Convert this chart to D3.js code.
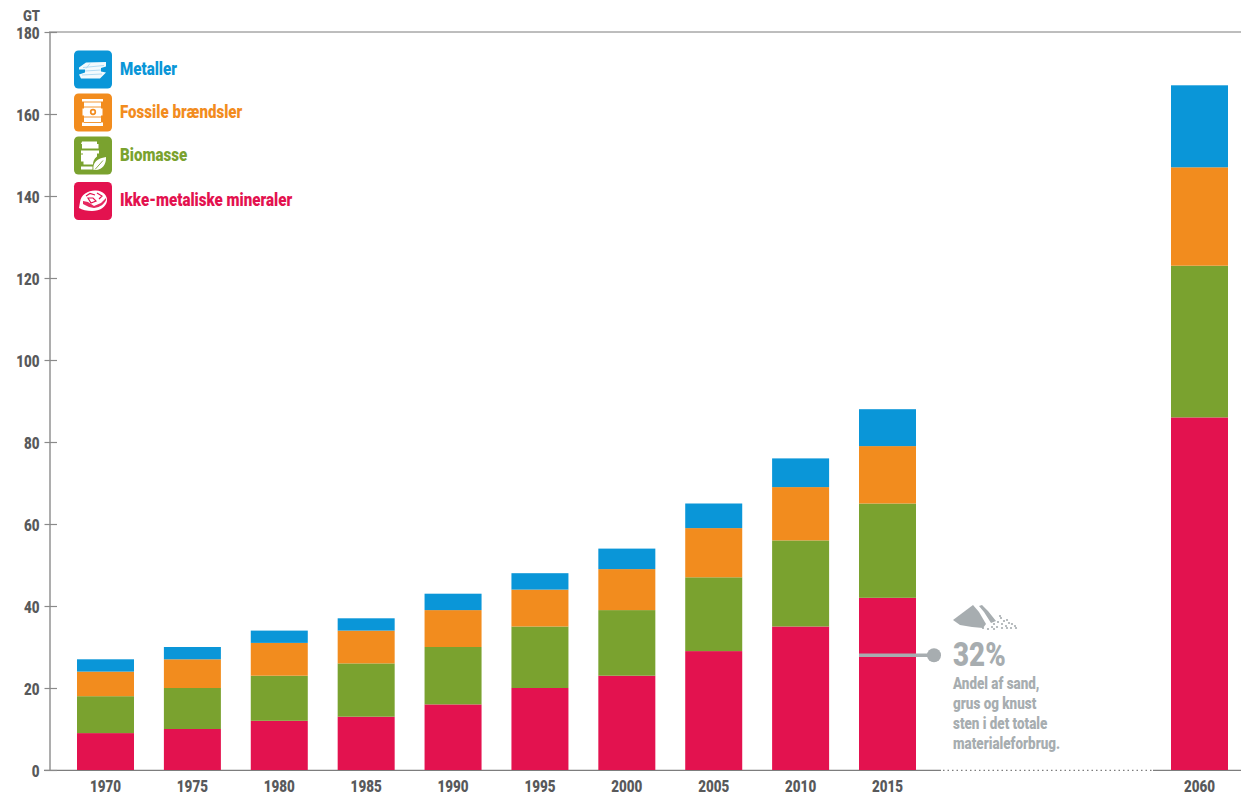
<!DOCTYPE html>
<html lang="da">
<head>
<meta charset="utf-8">
<script src="https://cdn.jsdelivr.net/npm/d3@7"></script>
<style>
html,body{margin:0;padding:0;background:#fff;}
svg{display:block;}
text{font-family:"Roboto",sans-serif;font-weight:900;}
</style>
</head>
<body>
<svg id="chart" width="1241" height="795"></svg>
<script>
const years = [1970,1975,1980,1985,1990,1995,2000,2005,2010,2015,2060];
const minerals = [9,10,12,13,16,20,23,29,35,42,86];
const biomass  = [9,10,11,13,14,15,16,18,21,23,37];
const fossil   = [6,7,8,8,9,9,10,12,13,14,24];
const metals   = [3,3,3,3,4,4,5,6,7,9,20];
const yTicks = [0,20,40,60,80,100,120,140,160,180];
const seriesNames = ["Ikke-metaliske mineraler","Biomasse","Fossile brændsler","Metaller"];
const seriesColors = ["#e3124f","#7aa22f","#f28c1e","#0a96d8"];
const legendOrder = ["Metaller","Fossile brændsler","Biomasse","Ikke-metaliske mineraler"];
const noteLines = ["Andel af sand,","grus og knust","sten i det totale","materialeforbrug."];
const noteValue = 28;
const noteShare = "32%";

const svg = d3.select("#chart");
const squeeze = 0.84;           // Roboto narrowed to a condensed width
const ink = "#58595b", axisGrey = "#8a8a8a", noteGrey = "#a7adb0";

const y = d3.scaleLinear().domain([0,180]).range([770,32]);
// The axis jumps from 2015 to 2060, so each side of the gap has its own pace
const x = d3.scaleLinear().domain([1970,2015,2060]).range([105.5,887.5,1199.5]);
const barW = 57;

function label(g,px,py,str,size,fill,anchor){
  return g.append("text")
    .attr("transform",`translate(${px},${py}) scale(${squeeze},1)`)
    .attr("text-anchor",anchor||"start")
    .attr("font-size",size).attr("fill",fill).text(str);
}

// Top rule and baseline with its dotted stretch across the gap
const rule = "#7d7d7d", baseY = y(0)+0.4;
svg.append("line").attr("x1",49).attr("x2",1241).attr("y1",y(180)).attr("y2",y(180))
  .attr("stroke",rule).attr("stroke-width",1);
svg.append("line").attr("x1",44).attr("x2",941).attr("y1",baseY).attr("y2",baseY)
  .attr("stroke",rule).attr("stroke-width",1.3);
svg.append("line").attr("x1",943).attr("x2",1153).attr("y1",baseY).attr("y2",baseY)
  .attr("stroke",rule).attr("stroke-width",1.3).attr("stroke-dasharray","1.5 3");
svg.append("line").attr("x1",1153).attr("x2",1241).attr("y1",baseY).attr("y2",baseY)
  .attr("stroke",rule).attr("stroke-width",1.3);

// Stacked bars
const rows = years.map((yr,i)=>({year:yr,0:minerals[i],1:biomass[i],2:fossil[i],3:metals[i]}));
const stacked = d3.stack().keys([0,1,2,3])(rows);
svg.append("g").selectAll("g").data(stacked).join("g")
  .attr("fill",s=>seriesColors[s.key])
  .selectAll("rect").data(s=>s).join("rect")
  .attr("x",d=>x(d.data.year)-barW/2)
  .attr("width",barW)
  .attr("y",d=>y(d[1]))
  .attr("height",d=>y(d[0])-y(d[1]));

// Value axis built by d3, restyled below
const yAxisG = svg.append("g").attr("transform","translate(49.5,0)")
  .call(d3.axisLeft(y).tickValues(yTicks).tickSize(0).tickPadding(0).tickFormat(()=>""));
yAxisG.select(".domain").attr("stroke",axisGrey).attr("stroke-width",1.4);
yAxisG.selectAll(".tick line").attr("x1",-5).attr("x2",7.5)
  .attr("stroke",axisGrey).attr("stroke-width",1.2);
yAxisG.selectAll(".tick").each(function(d){
  label(d3.select(this),-10,6,d,16,ink,"end");
});

// Year labels and unit
const xLabels = svg.append("g");
years.forEach(yr=>label(xLabels,x(yr),792,yr,16,ink,"middle"));
label(svg,31.5,20.5,"GT",15.5,ink,"middle");

// Legend
const iconPainters = {
  "Metaller":(g,c)=>{
    g.append("path").attr("d","M5 17 L12 12 L32 11.5 L32 16 L27 17.5 L27 21 L32 22 L26 28 L7 28 L5 24 L11 22 L11 19 L5 19 Z").attr("fill","#fff").attr("opacity",.95);
    g.append("path").attr("d","M9 17 L30 15 M11 20.5 L27 19.5 M8 24.5 L28 23.5 M16 13 L12 18").attr("stroke","#a9d8f2").attr("stroke-width",.9).attr("fill","none");
  },
  "Fossile brændsler":(g,c)=>{
    g.append("path").attr("d","M8 5.5 H29 V8 H27 V15 H28.5 V22 H27 V29 H29 V32.5 H8 V29 H10 V22 H8.5 V15 H10 V8 H8 Z").attr("fill","#fff");
    g.append("path").attr("d","M10 8.5 H27 M10 13.5 H27 M10 23.5 H27 M10 29 H27").attr("stroke",c).attr("stroke-width",.9);
    g.append("circle").attr("cx",19).attr("cy",18.5).attr("r",2.3).attr("fill","#fff").attr("stroke",c).attr("stroke-width",1.7);
  },
  "Biomasse":(g,c)=>{
    g.append("path").attr("d","M8 5 H23 V7.5 H24.5 V12 H8 V7.5 H7 Z M7 14 H25 V17 H23 V20 C20 22 19 25 19 28 H9.5 V25 H7 V18 H9 V17 H7 Z M7 30 H18.5 V33 H7 Z").attr("fill","#fff");
    g.append("path").attr("d","M19.5 33.5 C18.5 26 23 22 32 20.5 C32.5 28 28 34 20.5 33.5 Z").attr("fill","#fff");
    g.append("path").attr("d","M21 33 L29 24").attr("stroke",c).attr("stroke-width",.9);
  },
  "Ikke-metaliske mineraler":(g,c)=>{
    g.append("path").attr("d","M6 20 C7 12 15 8 22 8.5 C29 9 33.5 13 33 19 C32 25 26 29 18 29 C13 29 8 28 5 26 Z").attr("fill","#fff");
    g.append("path").attr("d","M9 19 L14 20 L20 24 L27 21 L32 16 L32 18 C30 22 27 25 20 26 L15 25 L9 22 Z").attr("fill",c).attr("opacity",.9);
    g.append("path").attr("d","M12 14 L16 11.5 L21 13 M23 11 L28 14 L25 17 M14 16 L19 16 L22 19 L17 21 Z").attr("stroke",c).attr("stroke-width",1.2).attr("fill","none");
  }
};
const legendTops = [50.5,93.5,136.5,182];
legendOrder.forEach((name,i)=>{
  const col = seriesColors[seriesNames.indexOf(name)];
  const g = svg.append("g").attr("transform",`translate(74,${legendTops[i]})`);
  g.append("rect").attr("width",38).attr("height",38).attr("rx",4.5).attr("fill",col);
  iconPainters[name](g,col);
  label(svg,120,legendTops[i]+24,name,18,col);
});

// Annotation on the 2015 bar
svg.append("line").attr("x1",x(2015)-barW/2).attr("x2",934)
  .attr("y1",y(noteValue)).attr("y2",y(noteValue))
  .attr("stroke",noteGrey).attr("stroke-width",3.5);
svg.append("circle").attr("cx",934).attr("cy",y(noteValue)).attr("r",7).attr("fill",noteGrey);
label(svg,953,666,noteShare,33,noteGrey);
noteLines.forEach((t,i)=>label(svg,953,689+i*20,t,16,noteGrey));

// Heap of sand and gravel above the share
const heap = svg.append("g").attr("fill",noteGrey);
heap.append("path").attr("d","M953 620 L973 605 L979 612 L986 624 L983 628 L972 627 L960 625 Z");
heap.append("path").attr("d","M982 605 L988 611 L996 621 L991 623 L984 612 L979 606 Z");
const gravel = [[994,624],[998,622],[1001,618],[1004,621],[1000,616],[1007,620],[1009,623],[1012,624],[1015,626],[1011,628],[1006,626],[1002,624],[997,627],[992,627],[1002,628],[988,629],[983,628],[1007,628],[994,629],[1016,628]];
heap.selectAll("circle").data(gravel).join("circle")
  .attr("cx",d=>d[0]).attr("cy",d=>d[1]).attr("r",1.1);
</script>
</body>
</html>
